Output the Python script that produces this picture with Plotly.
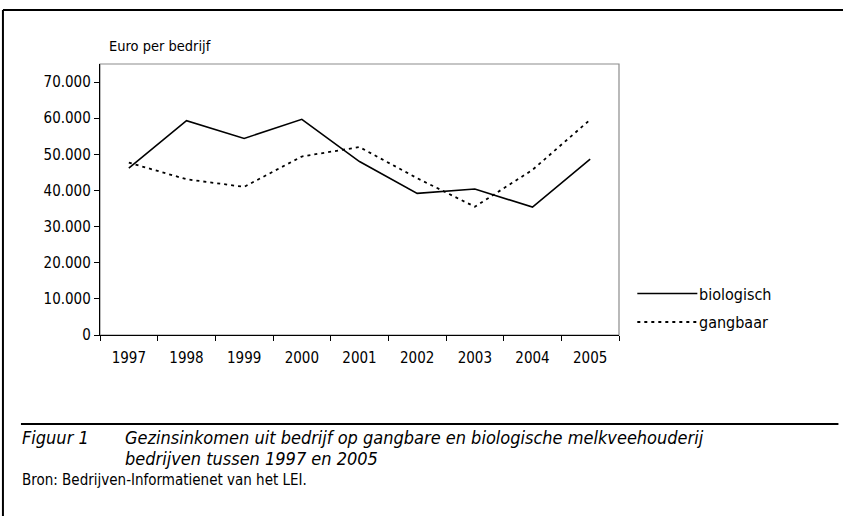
import plotly.graph_objects as go

years = ["1997", "1998", "1999", "2000", "2001", "2002", "2003", "2004", "2005"]
biologisch = [46200, 59300, 54400, 59700, 48000, 39200, 40400, 35400, 48700]
gangbaar = [47700, 43100, 41000, 49400, 52000, 43400, 35500, 45700, 59600]
y_ticks = [0, 10000, 20000, 30000, 40000, 50000, 60000, 70000]

W, H = 843, 516
L, R, T, B = 100, 618.7, 64, 335
FONT = "DejaVu Sans Condensed, Liberation Sans, Arial, sans-serif"

def px(xp):
    return (xp - L) / (R - L)

def py(yp):
    return (B - yp) / (B - T)

fig = go.Figure()
fig.add_trace(go.Scatter(x=years, y=biologisch, mode="lines", name="biologisch",
                         line=dict(color="black", width=1.6), hoverinfo="skip"))
fig.add_trace(go.Scatter(x=years, y=gangbaar, mode="lines", name="gangbaar",
                         line=dict(color="black", width=1.8, dash="3px,4px"), hoverinfo="skip"))

shapes = [
    dict(type="rect", xref="paper", yref="paper", x0=0, x1=1, y0=0, y1=1,
         line=dict(color="#8c8c8c", width=1.2), layer="below"),
    dict(type="line", xref="paper", yref="paper", x0=px(3), x1=px(843), y0=py(10), y1=py(10),
         line=dict(color="black", width=2)),
    dict(type="line", xref="paper", yref="paper", x0=px(3), x1=px(3), y0=py(10), y1=py(516),
         line=dict(color="black", width=2)),
    dict(type="line", xref="paper", yref="paper", x0=px(21), x1=px(838), y0=py(424), y1=py(424),
         line=dict(color="black", width=2)),
    dict(type="line", xref="paper", yref="paper", x0=px(637), x1=px(697), y0=py(293.5), y1=py(293.5),
         line=dict(color="black", width=1.6)),
    dict(type="line", xref="paper", yref="paper", x0=px(637), x1=px(697), y0=py(322), y1=py(322),
         line=dict(color="black", width=1.8, dash="3px,4px")),
]

ann = [
    dict(text="Euro per bedrijf", x=px(107), y=py(46), xanchor="left", yanchor="middle",
         font=dict(size=14.5)),
    dict(text="biologisch", x=px(697), y=py(294), xanchor="left", yanchor="middle",
         font=dict(size=16)),
    dict(text="gangbaar", x=px(697), y=py(322), xanchor="left", yanchor="middle",
         font=dict(size=16)),
    dict(text="<i>Figuur 1</i>", x=px(20), y=py(437), xanchor="left", yanchor="middle",
         font=dict(size=18)),
    dict(text="<i>Gezinsinkomen uit bedrijf op gangbare en biologische melkveehouderij</i>",
         x=px(123), y=py(437), xanchor="left", yanchor="middle", font=dict(size=18)),
    dict(text="<i>bedrijven tussen 1997 en 2005</i>",
         x=px(123), y=py(458), xanchor="left", yanchor="middle", font=dict(size=18)),
    dict(text="Bron: Bedrijven-Informatienet van het LEI.",
         x=px(20), y=py(480), xanchor="left", yanchor="middle", font=dict(size=15)),
]
for a in ann:
    a.update(xref="paper", yref="paper", showarrow=False)

fig.update_layout(
    width=W, height=H,
    margin=dict(l=L, r=W - R, t=T, b=H - B, pad=0),
    paper_bgcolor="white", plot_bgcolor="white",
    font=dict(family=FONT, color="black", size=15),
    showlegend=False,
    separators=",.",
    shapes=shapes,
    annotations=ann,
    xaxis=dict(type="category", tickson="boundaries", ticks="outside", ticklen=5,
               tickcolor="black", tickwidth=1, showline=True, linecolor="black", linewidth=1.2,
               showgrid=False, zeroline=False, tickfont=dict(size=15), ticklabelstandoff=9,
               range=[-0.5, 8.5]),
    yaxis=dict(range=[0, 75000], tickvals=y_ticks, tickformat=",d", ticks="outside", ticklen=5,
               tickcolor="black", tickwidth=1, showline=True, linecolor="black", linewidth=1.2,
               showgrid=False, zeroline=False, tickfont=dict(size=15)),
)

fig.write_html("out.html",
               config={"displayModeBar": False, "staticPlot": True},
               post_script="document.body.style.margin='0';document.body.style.padding='0';")
